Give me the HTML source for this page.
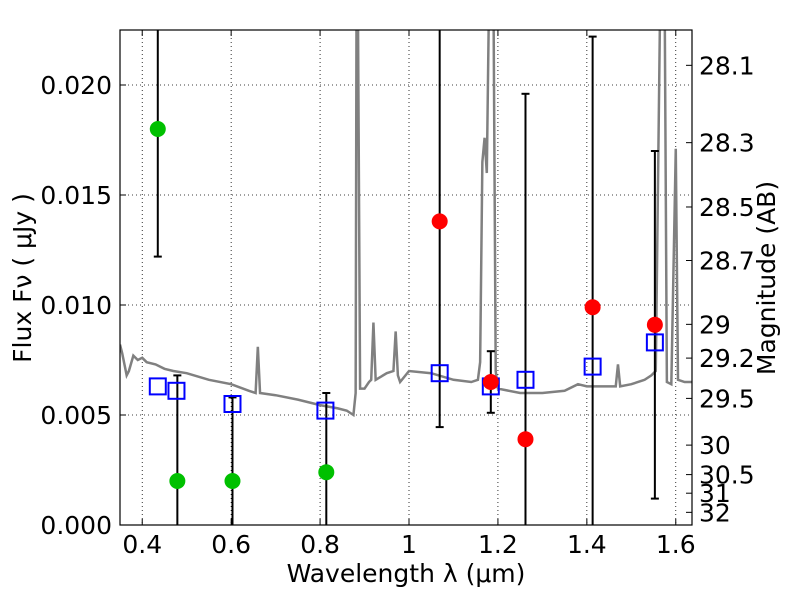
<!DOCTYPE html>
<html><head><meta charset="utf-8"><style>html,body{margin:0;background:#fff;overflow:hidden;width:800px;height:600px}svg{display:block;font-family:"DejaVu Sans","Liberation Sans",sans-serif}</style></head>
<body>
<svg id="c" width="800" height="600"></svg>
<script>
const xTicks=[0.4,0.6,0.8,1.0,1.2,1.4,1.6];
const xTickLabels=["0.4","0.6","0.8","1","1.2","1.4","1.6"];
const yTicks=[0,0.005,0.01,0.015,0.02];
const yTickLabels=["0.000","0.005","0.010","0.015","0.020"];
const magTicks=[28.1,28.3,28.5,28.7,29,29.2,29.5,30,30.5,31,32];
const specWave=[0.35,0.355,0.365,0.37,0.38,0.39,0.40,0.41,0.43,0.45,0.47,0.50,0.55,0.60,0.64,0.655,0.66,0.665,0.70,0.75,0.80,0.84,0.86,0.875,0.88,0.882,0.885,0.89,0.90,0.91,0.915,0.92,0.925,0.95,0.965,0.97,0.975,0.98,1.0,1.05,1.10,1.14,1.155,1.16,1.165,1.17,1.175,1.18,1.19,1.195,1.20,1.25,1.30,1.35,1.38,1.40,1.45,1.465,1.47,1.475,1.50,1.53,1.545,1.555,1.565,1.575,1.58,1.59,1.60,1.605,1.62,1.64];
const specFlux=[0.0082,0.0078,0.0068,0.0070,0.0077,0.0075,0.0076,0.0074,0.0073,0.0071,0.0070,0.0069,0.0066,0.0064,0.0061,0.0060,0.0081,0.0060,0.0059,0.0057,0.00545,0.0053,0.0052,0.0050,0.0060,0.0240,0.0240,0.0062,0.0062,0.0065,0.0066,0.0092,0.0066,0.0069,0.0070,0.0088,0.0068,0.0065,0.0070,0.0069,0.0066,0.0065,0.0066,0.0074,0.0165,0.0176,0.0160,0.0240,0.0240,0.0070,0.0062,0.0060,0.0060,0.0061,0.0064,0.0063,0.0063,0.0063,0.0073,0.0063,0.0064,0.0066,0.0068,0.0070,0.0240,0.0240,0.0065,0.0064,0.0171,0.0066,0.0065,0.0065];
const modelWave=[0.435,0.477,0.603,0.812,1.069,1.184,1.262,1.413,1.553];
const modelFlux=[0.0063,0.0061,0.0055,0.0052,0.0069,0.0063,0.0066,0.0072,0.0083];
const greenWave=[0.435,0.479,0.603,0.814];
const greenFlux=[0.0180,0.0020,0.0020,0.0024];
const redWave=[1.069,1.184,1.262,1.413,1.553];
const redFlux=[0.0138,0.0065,0.0039,0.0099,0.0091];
const errWave=[0.435,0.479,0.603,0.814,1.069,1.184,1.262,1.413,1.553];
const errLo=[0.0122,-0.01,-0.01,-0.01,0.00445,0.0051,-0.01,-0.01,0.0012];
const errHi=[0.03,0.0068,0.0058,0.0060,0.03,0.0079,0.0196,0.0222,0.0170];

const L=120,R=692,T=30,B=525,x0=0.35,x1=1.6365,y0=0,y1=0.0225;
const FS=25;
const X=v=>L+(v-x0)/(x1-x0)*(R-L);
const Y=v=>B-(v-y0)/(y1-y0)*(B-T);
const magToFlux=m=>3631*Math.pow(10,-m/2.5)*1e6;
const svg=document.getElementById('c');const NS='http://www.w3.org/2000/svg';
function el(t,a,p){const e=document.createElementNS(NS,t);for(const k in a)e.setAttribute(k,a[k]);(p||svg).appendChild(e);return e;}
const defs=el('defs',{});const cp=el('clipPath',{id:'cp'},defs);el('rect',{x:L,y:T,width:R-L,height:B-T},cp);
xTicks.forEach((t,i)=>{const g=el('line',{x1:X(t),x2:X(t),y1:T,y2:B,stroke:'#000','stroke-width':0.8,'stroke-dasharray':'1,3'});

const tk=el('line',{x1:X(t),x2:X(t),y1:B,y2:B-6,stroke:'#000'});
const tk2=el('line',{x1:X(t),x2:X(t),y1:T,y2:T+6,stroke:'#000'});
const lb=el('text',{x:X(t),y:B+28,'font-size':FS,'text-anchor':'middle'});lb.textContent=xTickLabels[i];});
yTicks.forEach((t,i)=>{const g=el('line',{x1:L,x2:R,y1:Y(t),y2:Y(t),stroke:'#000','stroke-width':0.8,'stroke-dasharray':'1,3'});

const tk=el('line',{x1:L,x2:L+6,y1:Y(t),y2:Y(t),stroke:'#000'});
const lb=el('text',{x:L-8,y:Y(t)+9,'font-size':FS,'text-anchor':'end'});lb.textContent=yTickLabels[i];});
magTicks.forEach(m=>{const y=Y(magToFlux(m));
const tk=el('line',{x1:R,x2:R-6,y1:y,y2:y,stroke:'#000'});
const lb=el('text',{x:R+7,y:y+9,'font-size':FS});lb.textContent=String(m);});
const G=el('g',{'clip-path':'url(#cp)'});
const sp=el('polyline',{points:specWave.map((w,i)=>X(w)+','+Y(specFlux[i])).join(' '),fill:'none',stroke:'#808080','stroke-width':2.5},G);

errWave.forEach((w,i)=>{const x=X(w);const l=el('line',{x1:x,x2:x,y1:Y(errLo[i]),y2:Y(errHi[i]),stroke:'#000','stroke-width':2},G);

[errLo[i],errHi[i]].forEach(v=>{const c=el('line',{x1:x-4,x2:x+4,y1:Y(v),y2:Y(v),stroke:'#000','stroke-width':2},G);});});
modelWave.forEach((w,i)=>{const r=el('rect',{x:X(w)-8,y:Y(modelFlux[i])-8,width:16,height:16,fill:'none',stroke:'#0000ff','stroke-width':2},G);
});
greenWave.forEach((w,i)=>{const c=el('circle',{cx:X(w),cy:Y(greenFlux[i]),r:8,fill:'#00c000'},G);
});
redWave.forEach((w,i)=>{const c=el('circle',{cx:X(w),cy:Y(redFlux[i]),r:8,fill:'#ff0000'},G);
});
const fr=el('rect',{x:L,y:T,width:R-L,height:B-T,fill:'none',stroke:'#000','stroke-width':1.2});
const xt=el('text',{x:406,y:582,'font-size':FS,'text-anchor':'middle'});xt.textContent='Wavelength  λ (μm)';
const yt=el('text',{x:0,y:0,'font-size':FS,'text-anchor':'middle',transform:'translate(31,278) rotate(-90)'});yt.textContent='Flux  Fν  ( μJy )';
const mt=el('text',{x:0,y:0,'font-size':FS,'text-anchor':'middle',transform:'translate(775,278) rotate(-90)'});mt.textContent='Magnitude (AB)';
</script>
</body></html>
